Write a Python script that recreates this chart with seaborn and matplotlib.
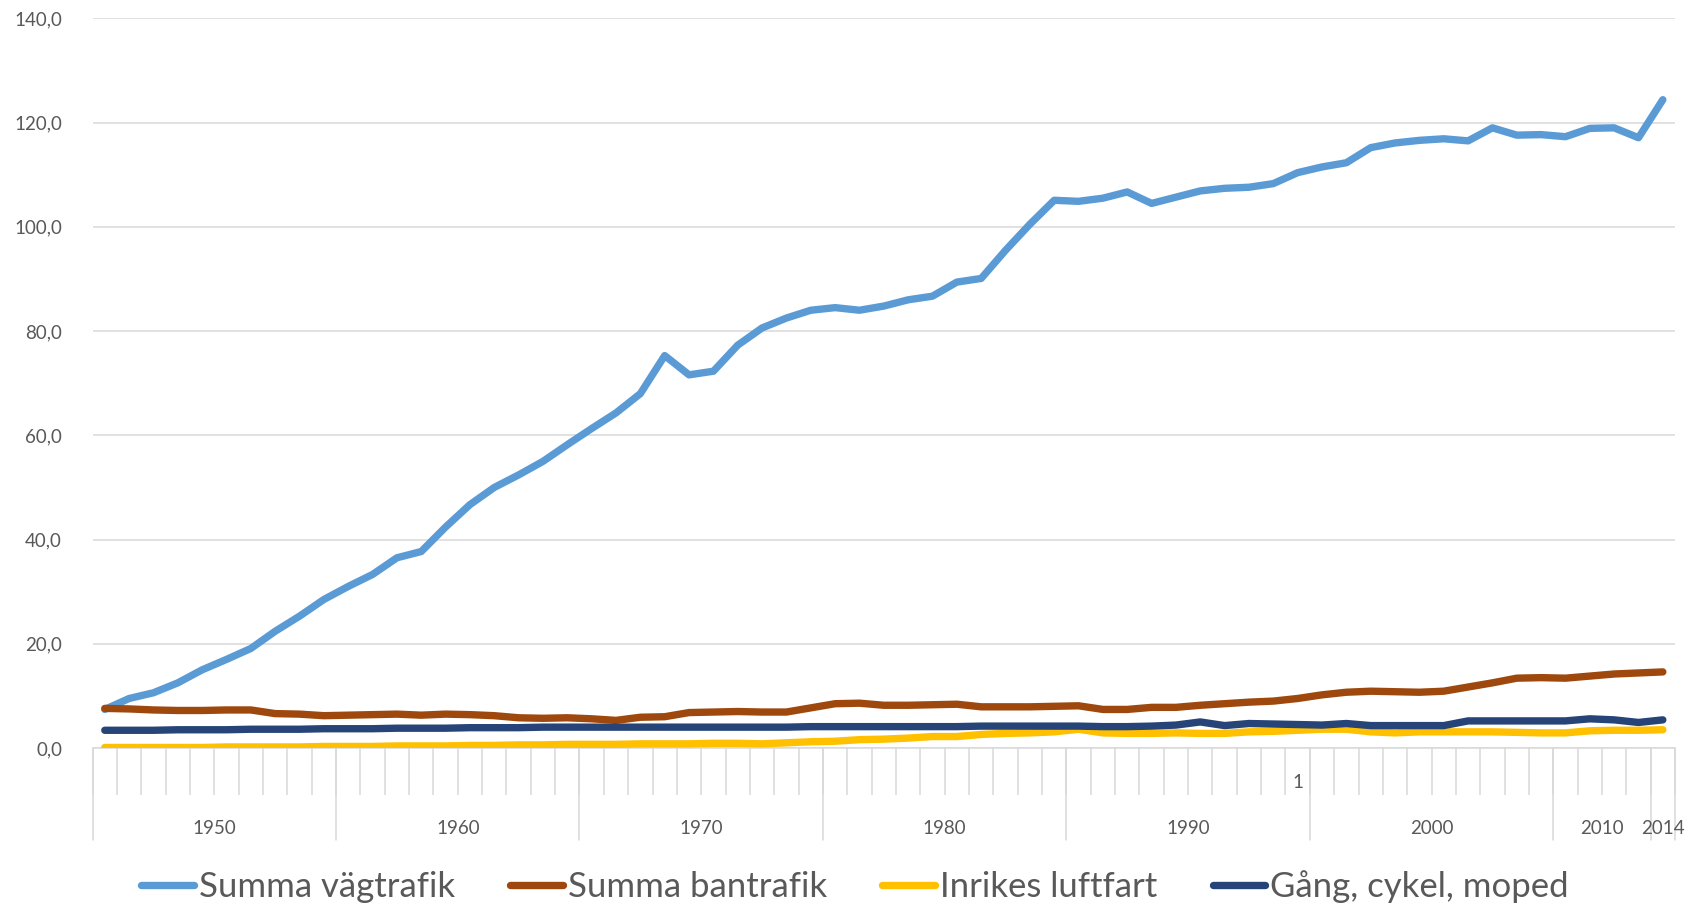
import numpy as np
import pandas as pd
import matplotlib
matplotlib.use("Agg")
import matplotlib.pyplot as plt
import seaborn as sns

years = list(range(1950, 2015))

vagtrafik = [7.4, 9.5, 10.6, 12.5, 15.0, 17.0, 19.1, 22.4, 25.3, 28.5,
             31.0, 33.3, 36.5, 37.7, 42.4, 46.7, 50.0, 52.4, 55.0, 58.2,
             61.3, 64.3, 68.0, 75.3, 71.6, 72.3, 77.3, 80.6, 82.5, 84.0,
             84.5, 84.0, 84.8, 86.0, 86.7, 89.4, 90.1, 95.5, 100.5, 105.1,
             104.9, 105.5, 106.7, 104.5, 105.7, 106.9, 107.4, 107.6, 108.3, 110.4,
             111.5, 112.3, 115.2, 116.1, 116.6, 116.9, 116.5, 119.0, 117.6, 117.7,
             117.3, 118.9, 119.0, 117.1, 124.4]

bantrafik = [7.6, 7.5, 7.3, 7.2, 7.2, 7.3, 7.3, 6.6, 6.5, 6.2,
             6.3, 6.4, 6.5, 6.3, 6.5, 6.4, 6.2, 5.8, 5.7, 5.8,
             5.6, 5.3, 5.9, 6.0, 6.8, 6.9, 7.0, 6.9, 6.9, 7.7,
             8.5, 8.6, 8.2, 8.2, 8.3, 8.4, 7.9, 7.9, 7.9, 8.0,
             8.1, 7.4, 7.4, 7.8, 7.8, 8.2, 8.5, 8.8, 9.0, 9.5,
             10.2, 10.7, 10.9, 10.8, 10.7, 10.9, 11.7, 12.5, 13.4, 13.5,
             13.4, 13.8, 14.2, 14.4, 14.6]

luftfart = [0.1, 0.1, 0.1, 0.1, 0.1, 0.2, 0.2, 0.2, 0.2, 0.3,
            0.3, 0.3, 0.4, 0.4, 0.4, 0.5, 0.5, 0.6, 0.6, 0.7,
            0.7, 0.7, 0.8, 0.8, 0.8, 0.9, 0.9, 0.8, 1.0, 1.2,
            1.3, 1.6, 1.7, 1.9, 2.2, 2.2, 2.6, 2.8, 2.9, 3.1,
            3.6, 2.9, 2.8, 2.8, 2.9, 2.8, 2.8, 3.1, 3.2, 3.4,
            3.6, 3.6, 3.1, 2.9, 3.1, 3.1, 3.1, 3.1, 3.0, 2.9,
            2.9, 3.3, 3.4, 3.4, 3.5]

gang_cykel = [3.4, 3.4, 3.4, 3.5, 3.5, 3.5, 3.6, 3.6, 3.6, 3.7,
              3.7, 3.7, 3.8, 3.8, 3.8, 3.9, 3.9, 3.9, 4.0, 4.0,
              4.0, 4.0, 4.0, 4.0, 4.0, 4.0, 4.0, 4.0, 4.0, 4.1,
              4.1, 4.1, 4.1, 4.1, 4.1, 4.1, 4.2, 4.2, 4.2, 4.2,
              4.2, 4.1, 4.1, 4.2, 4.4, 5.0, 4.3, 4.7, 4.6, 4.5,
              4.4, 4.7, 4.3, 4.3, 4.3, 4.3, 5.2, 5.2, 5.2, 5.2,
              5.2, 5.6, 5.4, 4.9, 5.4]

series_names = ["Summa vägtrafik", "Summa bantrafik", "Inrikes luftfart", "Gång, cykel, moped"]
colors = ["#5B9BD5", "#9E480E", "#FFC000", "#264478"]

# outer level of the category axis: (label, first year, last year)
groups = [("1950", 1950, 1959), ("1960", 1960, 1969), ("1970", 1970, 1979),
          ("1980", 1980, 1989), ("1990", 1990, 1999), ("2000", 2000, 2009),
          ("2010", 2010, 2013), ("2014", 2014, 2014)]
inner_labels = {1999: "1"}

df = pd.DataFrame({
    "year": years * 4,
    "value": vagtrafik + bantrafik + luftfart + gang_cykel,
    "serie": sum([[n] * len(years) for n in series_names], []),
})

sns.set_style("white")
plt.rcParams["font.family"] = ["Lato", "DejaVu Sans"]

fig = plt.figure(figsize=(16.93, 9.07), dpi=100)
ax = fig.add_axes([92.6 / 1693, 1 - 748 / 907, (1675 - 92.6) / 1693, (748 - 18.4) / 907])

sns.lineplot(data=df, x="year", y="value", hue="serie", hue_order=series_names,
             palette=dict(zip(series_names, colors)), linewidth=5.3, ax=ax,
             legend=False, zorder=3)
for ln in ax.lines:
    ln.set_solid_capstyle("round")
    ln.set_solid_joinstyle("round")

grid_c = "#D9D9D9"
text_c = "#595959"

ax.set_xlim(1949.5, 2014.5)
ax.set_ylim(0, 140)
ax.set_yticks(np.arange(0, 141, 20))
ax.set_yticklabels([f"{v:.1f}".replace(".", ",") for v in np.arange(0, 141, 20)])
ax.yaxis.grid(True, color=grid_c, linewidth=1.1)
ax.tick_params(axis="y", length=0, labelsize=13.5, labelcolor=text_c, pad=22)
for s in ["top", "right", "left"]:
    ax.spines[s].set_visible(False)
ax.spines["bottom"].set_color(grid_c)
ax.spines["bottom"].set_linewidth(1.1)
ax.set_xlabel("")
ax.set_ylabel("")

# inner level: small ticks between every year
ax.set_xticks(years)
ax.set_xticklabels([inner_labels.get(y, "") for y in years])
ax.tick_params(axis="x", which="major", length=0, labelsize=13.5,
               labelcolor=text_c, pad=19)
ax.set_xticks(np.arange(1949.5, 2015, 1), minor=True)
ax.tick_params(axis="x", which="minor", bottom=True, length=34,
               color=grid_c, width=1.1)

# outer level: long separators and group labels
trans = ax.get_xaxis_transform()
h = 729.6
for lab, y0, y1 in groups:
    ax.plot([y0 - 0.5, y0 - 0.5], [0, -92 / h], color=grid_c, lw=1.1,
            transform=trans, clip_on=False)
    ax.text((y0 + y1) / 2, -81 / h, lab, transform=trans, ha="center",
            va="center", fontsize=13.5, color=text_c)
ax.plot([2014.5, 2014.5], [0, -92 / h], color=grid_c, lw=1.1,
        transform=trans, clip_on=False)

handles = ax.lines[:4]
fig.legend(handles, series_names, loc="center", ncol=4,
           bbox_to_anchor=(0.505, 1 - 887 / 907), frameon=False,
           fontsize=25, labelcolor=text_c, handlelength=1.5,
           handletextpad=0.15, columnspacing=1.6)

fig.savefig("out.png", dpi=100)
